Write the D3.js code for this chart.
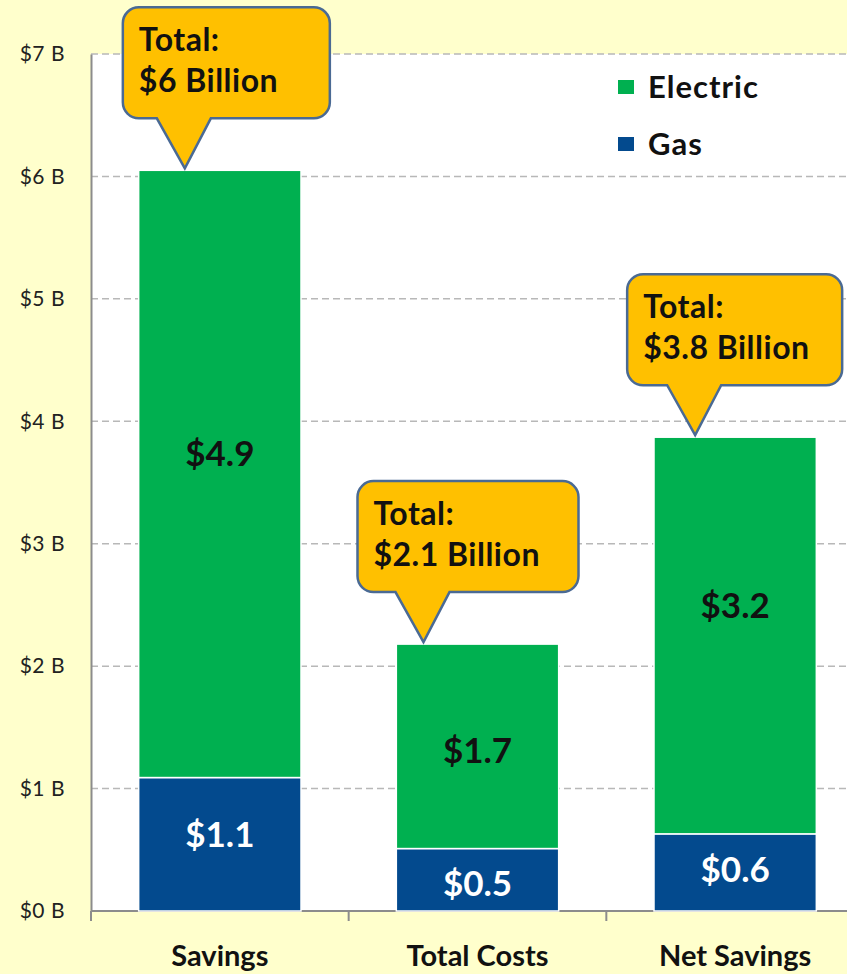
<!DOCTYPE html>
<html>
<head>
<meta charset="utf-8">
<script src="https://cdn.jsdelivr.net/npm/d3@7"></script>
<style>
  body { margin: 0; background: #FFFFCC; }
  svg { display: block; }
  text { font-family: Lato, "Open Sans", sans-serif; }
</style>
</head>
<body>
<div class="mainView"></div>
<script>
// chart data
let categories = ["Savings", "Total Costs", "Net Savings"];
let gasValues = [1.09, 0.51, 0.63];
let electricValues = [4.96, 1.67, 3.24];
let gasLabels = ["$1.1", "$0.5", "$0.6"];
let electricLabels = ["$4.9", "$1.7", "$3.2"];
let totalLabels = ["$6 Billion", "$2.1 Billion", "$3.8 Billion"];
let yTicks = [0, 1, 2, 3, 4, 5, 6, 7];
let yTickLabels = ["$0 B", "$1 B", "$2 B", "$3 B", "$4 B", "$5 B", "$6 B", "$7 B"];
let seriesNames = ["Electric", "Gas"];

function chartConfiguration(){
    let width = 847;
    let height = 974;
    let margin = { top: 54, bottom: 63, left: 91, right: -17 };
    let bodyHeight = height - margin.top - margin.bottom;
    let bodyWidth = width - margin.left - margin.right;
    let svg = d3.select(".mainView")
                .append("svg")
                .attr("width", width)
                .attr("height", height);
    svg.append("rect")
        .attr("width", width).attr("height", height)
        .style("fill", "#FFFFCC");
    let container = svg.append("g")
                .attr("transform", "translate(" + [margin.left, margin.top] + ")");
    return { width, height, margin, bodyHeight, bodyWidth, container };
}

function chartScales(config){
    let { bodyWidth, bodyHeight } = config;
    let xScale = d3.scaleBand()
        .domain(categories)
        .range([0, bodyWidth])
        .paddingInner(0.37)
        .paddingOuter(0.185);
    let yScale = d3.scaleLinear()
        .domain([0, 7])
        .range([bodyHeight, 0]);
    let cScale = d3.scaleOrdinal()
        .domain(seriesNames)
        .range(["#00B050", "#034A8E"]);
    return { xScale, yScale, cScale };
}

function drawAxes(scales, config){
    let { xScale, yScale } = scales;
    let { container, bodyWidth, bodyHeight } = config;

    container.append("rect")
        .attr("width", bodyWidth).attr("height", bodyHeight)
        .style("fill", "#ffffff");

    yTicks.forEach(t => {
        if (t === 0) return;
        container.append("line")
            .attr("x1", 0).attr("x2", bodyWidth)
            .attr("y1", yScale(t)).attr("y2", yScale(t))
            .style("stroke", "#b8b8b8")
            .style("stroke-width", 1.5)
            .style("stroke-dasharray", "7,4");
    });

    let axisY = d3.axisLeft(yScale)
        .tickValues(yTicks)
        .tickSize(0)
        .tickPadding(26)
        .tickFormat((d, i) => yTickLabels[i]);
    let gy = container.append("g").call(axisY);
    gy.select(".domain").style("stroke", "#8c8c8c").style("stroke-width", 2);
    gy.selectAll("text")
        .style("font-size", "21px")
        .style("letter-spacing", "0.5px")
        .style("fill", "#222")
        .style("font-family", "Lato, sans-serif");

    // bottom axis, ticks sit on the band edges
    container.append("line")
        .attr("x1", 0).attr("x2", bodyWidth)
        .attr("y1", bodyHeight).attr("y2", bodyHeight)
        .style("stroke", "#8c8c8c").style("stroke-width", 2);
    let step = xScale.step();
    let bounds = categories.map(c => xScale(c) - (step - xScale.bandwidth()) / 2);
    bounds.concat([bounds[bounds.length - 1] + step]).forEach(x => {
        container.append("line")
            .attr("x1", x).attr("x2", x)
            .attr("y1", bodyHeight).attr("y2", bodyHeight + 10)
            .style("stroke", "#8c8c8c").style("stroke-width", 2);
    });

    categories.forEach(c => {
        container.append("text")
            .attr("x", xScale(c) + xScale.bandwidth() / 2)
            .attr("y", bodyHeight + 55)
            .attr("text-anchor", "middle")
            .style("font-size", "29px")
            .style("font-weight", "bold")
            .style("fill", "#111")
            .text(c);
    });
}

function drawBars(scales, config){
    let { xScale, yScale, cScale } = scales;
    let { container } = config;
    let bw = xScale.bandwidth();
    // small nudges so labels sit where the original put them
    let elecNudge = [-21, 4, -30];
    let gasNudge = [-10, 4, -3];

    categories.forEach((c, i) => {
        let x = xScale(c);
        let g0 = 0, g1 = gasValues[i], e1 = gasValues[i] + electricValues[i];
        container.append("rect")
            .attr("x", x).attr("y", yScale(g1))
            .attr("width", bw).attr("height", yScale(g0) - yScale(g1))
            .style("fill", cScale("Gas"))
            .style("stroke", "#ffffff").style("stroke-width", 1.5);
        container.append("rect")
            .attr("x", x).attr("y", yScale(e1))
            .attr("width", bw).attr("height", yScale(g1) - yScale(e1))
            .style("fill", cScale("Electric"))
            .style("stroke", "#ffffff").style("stroke-width", 1.5);

        container.append("text")
            .attr("x", x + bw / 2)
            .attr("y", yScale((g0 + g1) / 2) + gasNudge[i])
            .attr("dy", "0.36em")
            .attr("text-anchor", "middle")
            .style("font-size", "35px").style("font-weight", "bold")
            .style("fill", "#ffffff")
            .text(gasLabels[i]);
        container.append("text")
            .attr("x", x + bw / 2)
            .attr("y", yScale((g1 + e1) / 2) + elecNudge[i])
            .attr("dy", "0.36em")
            .attr("text-anchor", "middle")
            .style("font-size", "35px").style("font-weight", "bold")
            .style("fill", "#111")
            .text(electricLabels[i]);
    });
}

function drawCallouts(scales, config){
    let { xScale, yScale } = scales;
    let { container } = config;
    let tipDx = [-35, -54, -40];
    let boxW = [207, 221, 215];
    let boxLeft = [-62, -66, -68];
    let boxH = 111, gap = 52, r = 16;

    categories.forEach((c, i) => {
        let tx = xScale(c) + xScale.bandwidth() / 2 + tipDx[i];
        let ty = yScale(gasValues[i] + electricValues[i]);
        let x0 = tx + boxLeft[i], x1 = x0 + boxW[i];
        let y1 = ty - gap, y0 = y1 - boxH;
        let p = d3.path();
        p.moveTo(x0 + r, y0);
        p.lineTo(x1 - r, y0);
        p.arcTo(x1, y0, x1, y0 + r, r);
        p.lineTo(x1, y1 - r);
        p.arcTo(x1, y1, x1 - r, y1, r);
        p.lineTo(tx + 26, y1);
        p.lineTo(tx, ty - 2);
        p.lineTo(tx - 28, y1);
        p.lineTo(x0 + r, y1);
        p.arcTo(x0, y1, x0, y1 - r, r);
        p.lineTo(x0, y0 + r);
        p.arcTo(x0, y0, x0 + r, y0, r);
        p.closePath();
        container.append("path")
            .attr("d", p.toString())
            .style("fill", "#FFC000")
            .style("stroke", "#4A6A94")
            .style("stroke-width", 2.5);
        container.append("text")
            .attr("x", x0 + 16).attr("y", y0 + 44)
            .style("font-size", "32px").style("font-weight", "bold")
            .style("letter-spacing", "0.5px")
            .style("fill", "#111")
            .text("Total:");
        container.append("text")
            .attr("x", x0 + 16).attr("y", y0 + 85)
            .style("font-size", "32px").style("font-weight", "bold")
            .style("letter-spacing", "0.5px")
            .style("fill", "#111")
            .text(totalLabels[i]);
    });
}

function legend(scales, config){
    let { cScale } = scales;
    let { container, margin } = config;
    let lx = 618 - margin.left, ly = 80 - margin.top;
    seriesNames.forEach((s, i) => {
        container.append("rect")
            .attr("x", lx).attr("y", ly + i * 57)
            .attr("width", 16).attr("height", 14)
            .style("fill", cScale(s));
        container.append("text")
            .attr("x", lx + 30).attr("y", ly + i * 57 + 18)
            .style("font-size", "31px").style("font-weight", "bold")
            .style("letter-spacing", "1px")
            .style("fill", "#111")
            .text(s);
    });
}

let config = chartConfiguration();
let scales = chartScales(config);
drawAxes(scales, config);
drawBars(scales, config);
drawCallouts(scales, config);
legend(scales, config);
</script>
</body>
</html>
